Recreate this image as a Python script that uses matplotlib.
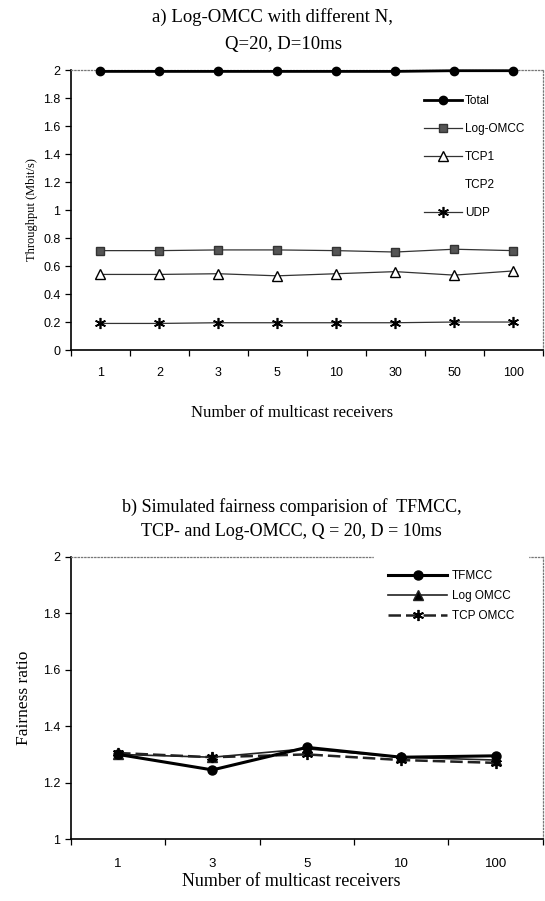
import matplotlib
matplotlib.use('Agg')
import matplotlib.pyplot as plt

# --- data ---
top_cats = ['1', '2', '3', '5', '10', '30', '50', '100']
total = [1.99, 1.99, 1.99, 1.99, 1.99, 1.99, 1.995, 1.995]
log_omcc = [0.71, 0.71, 0.715, 0.715, 0.71, 0.70, 0.72, 0.71]
tcp1 = [0.54, 0.54, 0.545, 0.53, 0.545, 0.56, 0.535, 0.565]
tcp2 = []
udp = [0.19, 0.19, 0.195, 0.195, 0.195, 0.195, 0.20, 0.20]
top_yticks = [0, 0.2, 0.4, 0.6, 0.8, 1, 1.2, 1.4, 1.6, 1.8, 2]
top_ylabels = ['0', '0.2', '0.4', '0.6', '0.8', '1', '1.2', '1.4', '1.6', '1.8', '2']

bot_cats = ['1', '3', '5', '10', '100']
tfmcc = [1.30, 1.245, 1.325, 1.29, 1.295]
log_omcc_f = [1.30, 1.29, 1.32, 1.29, 1.28]
tcp_omcc = [1.305, 1.29, 1.30, 1.28, 1.27]
bot_yticks = [1, 1.2, 1.4, 1.6, 1.8, 2]
bot_ylabels = ['1', '1.2', '1.4', '1.6', '1.8', '2']

SANS = 'Liberation Sans'
SERIF = 'Liberation Serif'


def style_axes(ax, ncat, yticks, ylabels, ylim):
    ax.set_xlim(0, ncat)
    ax.set_ylim(*ylim)
    ax.set_yticks(yticks)
    ax.set_yticklabels(ylabels, fontfamily=SANS, fontsize=9)
    # category boundaries get the tick marks, centres get the labels
    ax.set_xticks(range(ncat + 1))
    ax.set_xticklabels([''] * (ncat + 1))
    ax.tick_params(axis='both', direction='out', length=4, width=0.9, color='black')
    for s in ('top', 'right'):
        ax.spines[s].set_linestyle(':')
        ax.spines[s].set_color('#777777')
        ax.spines[s].set_linewidth(0.9)
    ax.spines['left'].set_linewidth(1.2)
    ax.spines['bottom'].set_linewidth(1.2)


fig = plt.figure(figsize=(5.45, 9.01), dpi=100)

# ---------------- a) throughput ----------------
ax1 = fig.add_axes([0.130, 0.6115, 0.866, 0.3108])
x1 = [i + 0.5 for i in range(len(top_cats))]
ax1.plot(x1, total, color='black', lw=2.0, marker='o', ms=6, label='Total', clip_on=False, zorder=4)
ax1.plot(x1, log_omcc, color='#333333', lw=0.9, marker='s', ms=5.5, mfc='#555555', mec='#333333',
         label='Log-OMCC')
ax1.plot(x1, tcp1, color='#333333', lw=0.9, marker='^', ms=7, mfc='white', mec='black',
         label='TCP1')
ax1.plot(tcp2, tcp2, linestyle='none', label='TCP2')
ax1.plot(x1, udp, color='#333333', lw=0.9, marker=(6, 2, 0), ms=8, mec='black', mew=1.2,
         label='UDP')
style_axes(ax1, len(top_cats), top_yticks, top_ylabels, (0, 2))
for xi, lab in zip(x1, top_cats):
    ax1.text(xi, -0.165, lab, ha='center', va='center', fontfamily=SANS, fontsize=9)
ax1.set_ylabel('Throughput (Mbit/s)', fontfamily=SERIF, fontsize=9, labelpad=4)
fig.text(0.535, 1 - 413 / 901, 'Number of multicast receivers', ha='center', va='center',
         fontfamily=SERIF, fontsize=12)
fig.text(0.50, 1 - 17 / 901, 'a) Log-OMCC with different N,', ha='center', va='center',
         fontfamily=SERIF, fontsize=13.5)
fig.text(0.52, 1 - 45 / 901, 'Q=20, D=10ms', ha='center', va='center',
         fontfamily=SERIF, fontsize=13.5)
leg1 = ax1.legend(loc='center left', bbox_to_anchor=(0.756, 1 - 157 / 901),
                  bbox_transform=fig.transFigure, borderaxespad=0, borderpad=1.0,
                  frameon=True, fancybox=False, edgecolor='white', framealpha=1,
                  prop={'family': SANS, 'size': 8.5}, handlelength=3.2, handletextpad=0.3,
                  labelspacing=1.35)
leg1.set_zorder(10)

# ---------------- b) fairness ----------------
ax2 = fig.add_axes([0.130, 0.0688, 0.866, 0.313])
x2 = [i + 0.5 for i in range(len(bot_cats))]
ax2.plot(x2, tfmcc, color='black', lw=2.2, marker='o', ms=6.5, label='TFMCC', zorder=4)
ax2.plot(x2, log_omcc_f, color='#222222', lw=1.2, marker='^', ms=6.5, mfc='black',
         label='Log OMCC', zorder=3)
ax2.plot(x2, tcp_omcc, color='#222222', lw=1.8, ls=(0, (5, 2)), marker=(6, 2, 0), ms=8, mew=1.3,
         mec='black', label='TCP OMCC', zorder=3)
style_axes(ax2, len(bot_cats), bot_yticks, bot_ylabels, (1, 2))
for xi, lab in zip(x2, bot_cats):
    ax2.text(xi, 0.91, lab, ha='center', va='center', fontfamily=SANS, fontsize=9.5)
ax2.set_ylabel('Fairness ratio', fontfamily=SERIF, fontsize=12.5, labelpad=8)
fig.text(0.535, 1 - 882 / 901, 'Number of multicast receivers', ha='center', va='center',
         fontfamily=SERIF, fontsize=13)
fig.text(0.535, 1 - 507 / 901, 'b) Simulated fairness comparision of  TFMCC,', ha='center',
         va='center', fontfamily=SERIF, fontsize=13)
fig.text(0.535, 1 - 531 / 901, 'TCP- and Log-OMCC, Q = 20, D = 10ms', ha='center',
         va='center', fontfamily=SERIF, fontsize=13)
leg2 = ax2.legend(loc='center left', bbox_to_anchor=(0.686, 1 - 596 / 901),
                  bbox_transform=fig.transFigure, borderaxespad=0, borderpad=1.2,
                  frameon=True, fancybox=False, edgecolor='white', framealpha=1,
                  prop={'family': SANS, 'size': 8.5}, handlelength=5.0, handletextpad=0.4,
                  labelspacing=0.7)
leg2.set_zorder(10)

fig.savefig('out.png', dpi=100)
